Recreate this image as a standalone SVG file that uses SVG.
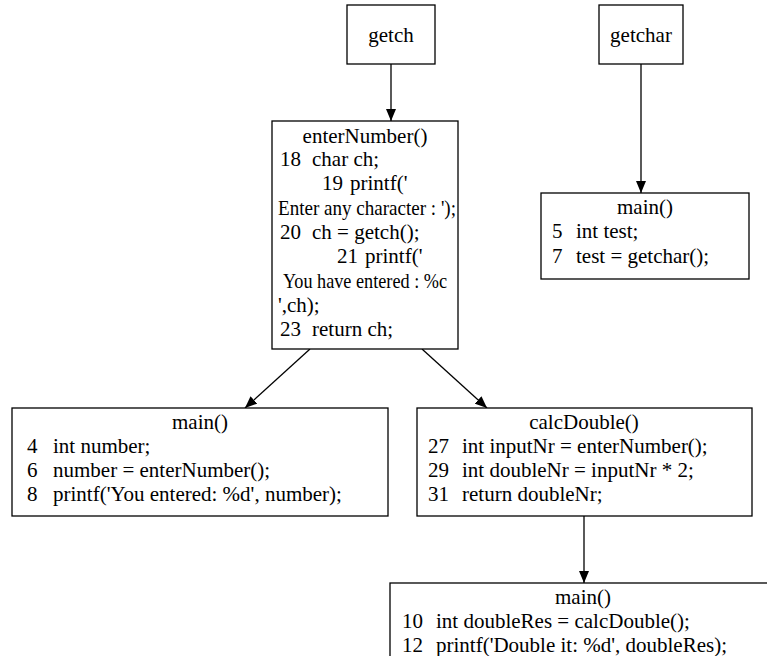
<svg xmlns="http://www.w3.org/2000/svg" width="767" height="656" viewBox="0 0 767 656">
<defs>
<style>
.box{fill:#fff;stroke:#000;stroke-width:1.3}
text{font-family:"Liberation Serif","Times New Roman",serif;font-size:21px;fill:#000}
.c{text-anchor:middle}
.e{stroke:#000;stroke-width:1.3;fill:none}
</style>
<marker id="ah" markerWidth="12" markerHeight="10" refX="12" refY="5" orient="auto" markerUnits="userSpaceOnUse" viewBox="0 0 12 10">
<path d="M0,0 L12,5 L0,10 Z" fill="#000"/>
</marker>
</defs>
<rect width="767" height="656" fill="#fff"/>
<g id="edges">
<path class="e" d="M391,64 L391,121" marker-end="url(#ah)"/>
<path class="e" d="M641,64 L641,193" marker-end="url(#ah)"/>
<path class="e" d="M310,349 L245,408" marker-end="url(#ah)"/>
<path class="e" d="M422,349 L487,408" marker-end="url(#ah)"/>
<path class="e" d="M584,516 L584,583" marker-end="url(#ah)"/>
</g>
<g id="getch">
<rect class="box" x="347" y="5" width="88" height="59"/>
<text class="c" x="391" y="42">getch</text>
</g>
<g id="getchar">
<rect class="box" x="599" y="5" width="84" height="59"/>
<text class="c" x="641" y="42">getchar</text>
</g>
<g id="enterNumber">
<rect class="box" x="272" y="121" width="186" height="228"/>
<text class="c" x="365" y="143">enterNumber()</text>
<text x="280" y="166">18</text><text x="312" y="166">char ch;</text>
<text x="322" y="190">19</text><text x="350" y="190">printf('</text>
<text x="278" y="215" textLength="178" lengthAdjust="spacingAndGlyphs">Enter any character : ');</text>
<text x="280" y="239">20</text><text x="312" y="239">ch = getch();</text>
<text x="337" y="263">21</text><text x="365" y="263">printf('</text>
<text x="283" y="288" textLength="164" lengthAdjust="spacingAndGlyphs">You have entered : %c</text>
<text x="278" y="312">',ch);</text>
<text x="280" y="336">23</text><text x="312" y="336">return ch;</text>
</g>
<g id="main_getchar">
<rect class="box" x="541" y="193" width="208" height="86"/>
<text class="c" x="645" y="214">main()</text>
<text x="552" y="238">5</text><text x="576" y="238">int test;</text>
<text x="552" y="263">7</text><text x="576" y="263">test = getchar();</text>
</g>
<g id="main_number">
<rect class="box" x="12" y="408" width="376" height="108"/>
<text class="c" x="200" y="429">main()</text>
<text x="27" y="453">4</text><text x="53" y="453">int number;</text>
<text x="27" y="477">6</text><text x="53" y="477">number = enterNumber();</text>
<text x="27" y="501">8</text><text x="53" y="501">printf('You entered: %d', number);</text>
</g>
<g id="calcDouble">
<rect class="box" x="417" y="408" width="335" height="108"/>
<text class="c" x="584" y="429">calcDouble()</text>
<text x="428" y="453">27</text><text x="462" y="453">int inputNr = enterNumber();</text>
<text x="428" y="477">29</text><text x="462" y="477">int doubleNr = inputNr * 2;</text>
<text x="428" y="501">31</text><text x="462" y="501">return doubleNr;</text>
</g>
<g id="main_double">
<rect class="box" x="390" y="583" width="400" height="100"/>
<text class="c" x="583" y="604">main()</text>
<text x="402" y="628">10</text><text x="436" y="628">int doubleRes = calcDouble();</text>
<text x="402" y="652">12</text><text x="436" y="652">printf('Double it: %d', doubleRes);</text>
</g>
</svg>
